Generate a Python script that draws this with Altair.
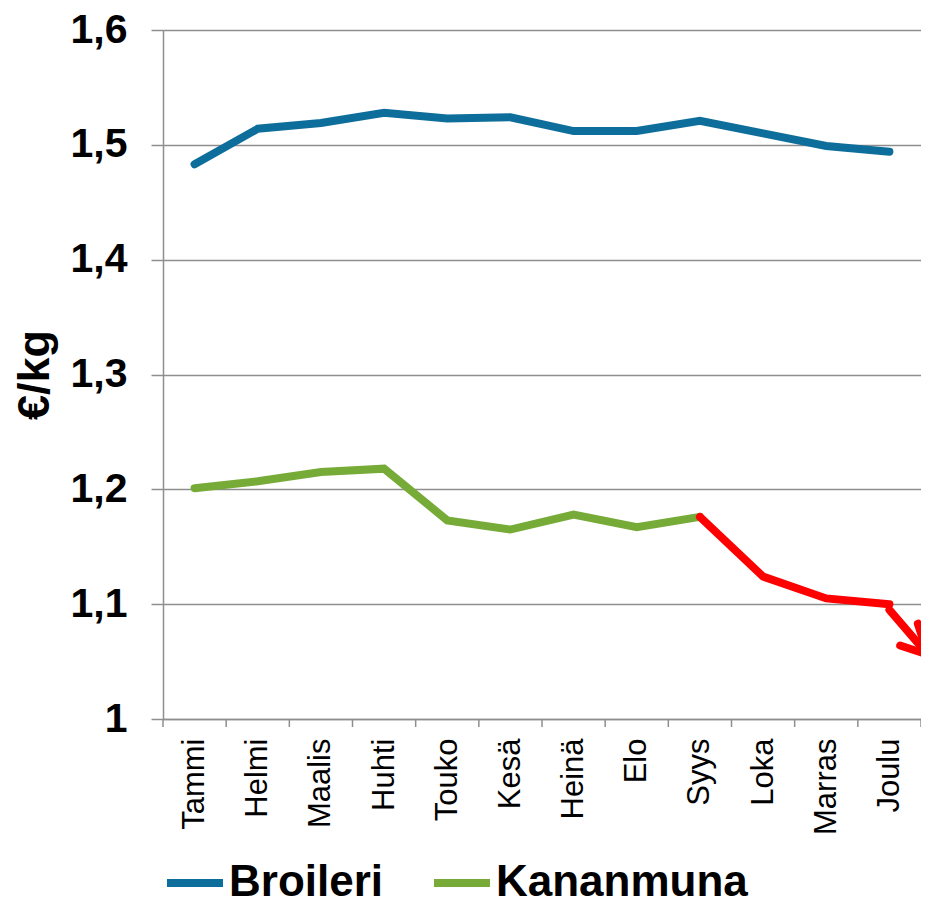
import altair as alt
import pandas as pd

months = ['Tammi', 'Helmi', 'Maalis', 'Huhti', 'Touko', 'Kesä', 'Heinä', 'Elo', 'Syys', 'Loka', 'Marras', 'Joulu']
broileri = [1.483, 1.514, 1.519, 1.528, 1.523, 1.524, 1.512, 1.512, 1.521, 1.510, 1.499, 1.494]
kananmuna = [1.201, 1.207, 1.215, 1.218, 1.173, 1.165, 1.178, 1.167, 1.176, 1.124, 1.105, 1.100]
red_from = 8  # Syys onward drawn red

# annotation arrow (data coordinates: month index, €/kg)
arrow_shaft_x = [11.0, 11.61]
arrow_shaft_y = [1.095, 1.056]
arrow_head_x = [11.17, 11.61, 11.45]
arrow_head_y = [1.064, 1.056, 1.083]

y_ticks = [1.0, 1.1, 1.2, 1.3, 1.4, 1.5, 1.6]
tick_bounds = [i - 0.5 for i in range(len(months) + 1)]

BLUE = '#0E6E9B'
GREEN = '#77AB38'
RED = '#FF0000'
GRID = '#8E8E8E'
FONT = 'Liberation Sans'

W, H = 758, 689

rows = []
for i, v in enumerate(broileri):
    rows.append({'x': i, 'v': v, 'series': 'Broileri'})
for i, v in enumerate(kananmuna[:red_from + 1]):
    rows.append({'x': i, 'v': v, 'series': 'Kananmuna'})
df = pd.DataFrame(rows)
df_red = pd.DataFrame({'x': list(range(red_from, len(months))), 'v': kananmuna[red_from:]})
df_shaft = pd.DataFrame({'x': arrow_shaft_x, 'v': arrow_shaft_y, 'o': [0, 1]})
df_head = pd.DataFrame({'x': arrow_head_x, 'v': arrow_head_y, 'o': [0, 1, 2]})
df_ticks = pd.DataFrame({'x': tick_bounds})

label_arr = '[' + ','.join("'" + m + "'" for m in months) + ']'

X = alt.X('x:Q',
          scale=alt.Scale(domain=[-0.5, len(months) - 0.5], nice=False, zero=False),
          axis=alt.Axis(values=list(range(len(months))), labelExpr=label_arr + '[datum.value]',
                        ticks=False, grid=False, domainColor=GRID, domainWidth=1.5,
                        labelAngle=270, labelFont=FONT, labelFontSize=31, labelColor='black',
                        labelPadding=19, title=None))
Y = alt.Y('v:Q',
          scale=alt.Scale(domain=[1.0, 1.6], nice=False, zero=False),
          axis=alt.Axis(values=y_ticks, labelExpr="replace(format(datum.value, '.1~f'), '.', ',')",
                        labelFont=FONT, labelFontSize=41, labelFontWeight='bold', labelColor='black',
                        labelPadding=24, tickSize=12, tickColor=GRID, tickWidth=1.5,
                        domainColor=GRID, domainWidth=1.5, gridColor=GRID, gridWidth=1.5,
                        title='€/kg', titleFont=FONT, titleFontSize=45, titleFontWeight='bold',
                        titleColor='black', titlePadding=13))

lines = alt.Chart(df).mark_line(strokeWidth=8, strokeCap='round').encode(
    x=X, y=Y,
    color=alt.Color('series:N', scale=alt.Scale(domain=['Broileri', 'Kananmuna'], range=[BLUE, GREEN]),
                    legend=alt.Legend(title=None, orient='none', legendX=0, legendY=821,
                                      direction='horizontal', symbolType='stroke', symbolSize=3136,
                                      symbolStrokeWidth=8, labelFont=FONT, labelFontSize=44,
                                      labelFontWeight='bold', labelColor='black', labelLimit=500,
                                      labelOffset=2, columnPadding=34))
)
red = alt.Chart(df_red).mark_line(strokeWidth=8, strokeCap='round', color=RED).encode(x=X, y=Y)
shaft = alt.Chart(df_shaft).mark_line(strokeWidth=8, strokeCap='round', color=RED).encode(x=X, y=Y, order='o:Q')
head = alt.Chart(df_head).mark_line(strokeWidth=8, strokeCap='round', strokeJoin='miter', color=RED).encode(x=X, y=Y, order='o:Q')
ticks = alt.Chart(df_ticks).mark_rule(color=GRID, strokeWidth=1.5).encode(
    x=X, y=alt.value(H), y2=alt.value(H + 8))

chart = alt.layer(ticks, lines, red, shaft, head).properties(
    width=W, height=H,
    autosize=alt.AutoSizeParams(type='none'),
    padding={'left': 155, 'top': 22, 'right': 0, 'bottom': 181},
).configure_view(stroke=None).configure(background='white')

chart.save('out.html', embed_options={'renderer': 'svg', 'actions': False})
